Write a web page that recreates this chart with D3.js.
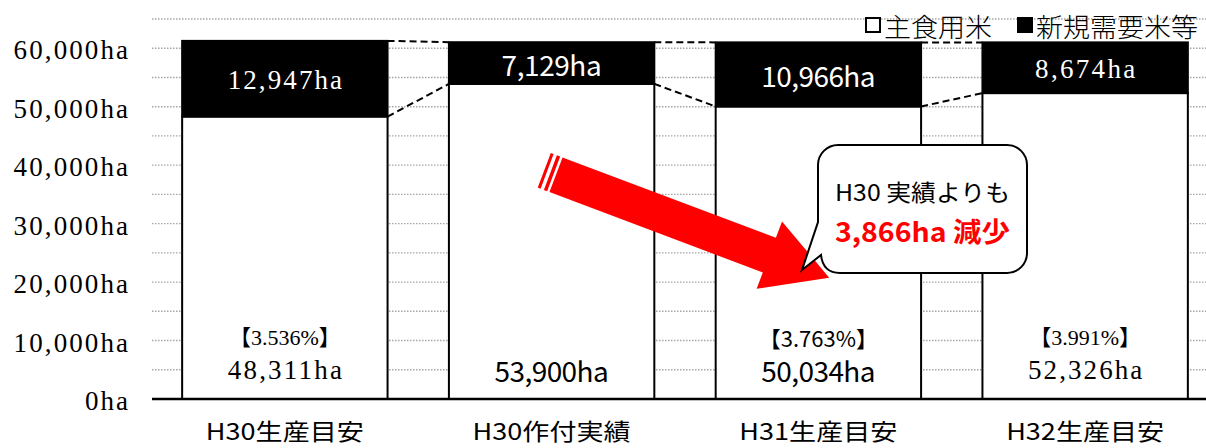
<!DOCTYPE html>
<html>
<head>
<meta charset="utf-8">
<script src="https://cdn.jsdelivr.net/npm/d3@7/dist/d3.min.js"></script>
<style>
  body { margin: 0; background: #fff; }
  svg { display: block; }
</style>
</head>
<body>
<div id="chart"></div>
<script>
// data
var categories = ["H30生産目安", "H30作付実績", "H31生産目安", "H32生産目安"];
var shushoku = [48311, 53900, 50034, 52326];   // 主食用米
var shinki = [12947, 7129, 10966, 8674];       // 新規需要米等
var shares = ["【3.536%】", null, "【3.763%】", "【3.991%】"];
var yTicks = [0, 10000, 20000, 30000, 40000, 50000, 60000];
var gridTicks = [5000, 10000, 15000, 20000, 25000, 30000, 35000, 40000, 45000, 50000, 55000, 60000, 65000];
var legendLabels = ["主食用米", "新規需要米等"];
var calloutLines = ["H30 実績よりも", "3,866ha 減少"];

// which bars use the mincho-looking font
var serifBar = [true, false, false, true];

var w = 1206, h = 448;
var SERIF = "'Liberation Serif', 'DejaVu Serif', serif";
var GOTHIC = "'Liberation Sans Narrow', 'Noto Sans CJK JP', sans-serif";
var CJK = "'Noto Sans CJK JP', sans-serif";

var svg = d3.select("#chart").append("svg")
    .attr("width", w)
    .attr("height", h);

var y = d3.scaleLinear().domain([0, 65000]).range([399, 19]);
var x = d3.scaleBand().domain(categories).range([152, 1218])
    .paddingInner(0.23).paddingOuter(0.113);

var fmt = function (v) { return d3.format(",")(v) + "ha"; };
var halfW = 14.3; // width of one half-width char in the original

// gridlines
svg.append("g").selectAll("line")
    .data(gridTicks)
    .enter().append("line")
    .attr("x1", 152).attr("x2", w)
    .attr("y1", function (d) { return y(d); })
    .attr("y2", function (d) { return y(d); })
    .attr("stroke", "#a6a6a6")
    .attr("stroke-width", 1.4)
    .attr("stroke-dasharray", "1.5,1.5");

// y tick labels
svg.append("g").selectAll("text")
    .data(yTicks)
    .enter().append("text")
    .attr("x", 128)
    .attr("y", function (d) { return y(d) + 2; })
    .attr("text-anchor", "end")
    .attr("dominant-baseline", "central")
    .attr("font-family", SERIF)
    .attr("font-size", 27)
    .attr("textLength", function (d) { return fmt(d).length * halfW; })
    .attr("lengthAdjust", "spacing")
    .text(function (d) { return fmt(d); });

var bars = categories.map(function (c, i) {
    return { cat: c, low: shushoku[i], high: shinki[i], total: shushoku[i] + shinki[i], i: i };
});

// white segment
svg.append("g").selectAll("rect")
    .data(bars)
    .enter().append("rect")
    .attr("x", function (d) { return x(d.cat); })
    .attr("y", function (d) { return y(d.low); })
    .attr("width", x.bandwidth())
    .attr("height", function (d) { return y(0) - y(d.low); })
    .attr("fill", "#fff")
    .attr("stroke", "#000")
    .attr("stroke-width", 2);

// black segment
svg.append("g").selectAll("rect")
    .data(bars)
    .enter().append("rect")
    .attr("x", function (d) { return x(d.cat); })
    .attr("y", function (d) { return y(d.total); })
    .attr("width", x.bandwidth())
    .attr("height", function (d) { return y(d.low) - y(d.total); })
    .attr("fill", "#000")
    .attr("stroke", "#000")
    .attr("stroke-width", 2);

// dashed connectors between bars
var pairs = bars.slice(0, -1).map(function (d, i) { return [d, bars[i + 1]]; });
["total", "low"].forEach(function (key) {
    svg.append("g").selectAll("line")
        .data(pairs)
        .enter().append("line")
        .attr("x1", function (p) { return x(p[0].cat) + x.bandwidth(); })
        .attr("x2", function (p) { return x(p[1].cat); })
        .attr("y1", function (p) { return y(p[0][key]); })
        .attr("y2", function (p) { return y(p[1][key]); })
        .attr("stroke", "#000")
        .attr("stroke-width", 2)
        .attr("stroke-dasharray", "7,4");
});

// x axis line
svg.append("line")
    .attr("x1", 152).attr("x2", w)
    .attr("y1", y(0)).attr("y2", y(0))
    .attr("stroke", "#000")
    .attr("stroke-width", 2.5);

// category labels
svg.append("g").selectAll("text")
    .data(categories)
    .enter().append("text")
    .attr("x", function (d) { return x(d) + x.bandwidth() / 2; })
    .attr("y", 430)
    .attr("text-anchor", "middle")
    .attr("dominant-baseline", "central")
    .attr("font-family", GOTHIC)
    .attr("font-size", 23)
    .attr("textLength", 158)
    .attr("lengthAdjust", "spacingAndGlyphs")
    .text(function (d) { return d; });

// labels in the black segment
svg.append("g").selectAll("text")
    .data(bars)
    .enter().append("text")
    .attr("x", function (d) { return x(d.cat) + x.bandwidth() / 2; })
    .attr("y", function (d) { return (y(d.total) + y(d.low)) / 2 + 1; })
    .attr("text-anchor", "middle")
    .attr("dominant-baseline", "central")
    .attr("fill", "#fff")
    .attr("font-family", function (d) { return serifBar[d.i] ? SERIF : GOTHIC; })
    .attr("font-size", function (d) { return serifBar[d.i] ? 27 : 28; })
    .attr("textLength", function (d) { return fmt(d.high).length * halfW; })
    .attr("lengthAdjust", "spacing")
    .text(function (d) { return fmt(d.high); });

// labels near the bottom of the white segment
svg.append("g").selectAll("text")
    .data(bars)
    .enter().append("text")
    .attr("x", function (d) { return x(d.cat) + x.bandwidth() / 2; })
    .attr("y", y(0) - 29)
    .attr("text-anchor", "middle")
    .attr("dominant-baseline", "central")
    .attr("font-family", function (d) { return serifBar[d.i] ? SERIF : GOTHIC; })
    .attr("font-size", function (d) { return serifBar[d.i] ? 27 : 28; })
    .attr("textLength", function (d) { return fmt(d.low).length * halfW; })
    .attr("lengthAdjust", "spacing")
    .text(function (d) { return fmt(d.low); });

svg.append("g").selectAll("text")
    .data(bars.filter(function (d) { return shares[d.i]; }))
    .enter().append("text")
    .attr("x", function (d) { return x(d.cat) + x.bandwidth() / 2; })
    .attr("y", y(0) - 62)
    .attr("text-anchor", "middle")
    .attr("dominant-baseline", "central")
    .attr("font-family", function (d) { return serifBar[d.i] ? "'Liberation Serif', 'Noto Sans CJK JP', serif" : GOTHIC; })
    .attr("font-size", 22)
    .text(function (d) { return shares[d.i]; });

// red arrow
var arrow = svg.append("g")
    .attr("transform", "translate(556,174.7) rotate(20.66)")
    .attr("fill", "#ff0000");
arrow.append("polygon")
    .attr("points", [[0, -18.5], [228, -18.5], [228, -36], [292, 0], [228, 36], [228, 18.5], [0, 18.5]].join(" "));
arrow.append("rect").attr("x", -6).attr("y", -18.5).attr("width", 3.5).attr("height", 37);
arrow.append("rect").attr("x", -12.5).attr("y", -18.5).attr("width", 3).attr("height", 37);

// callout
svg.append("path")
    .attr("d", "M838,145 H1007 A20,20 0 0 1 1027,165 V253 A20,20 0 0 1 1007,273 H840 " +
               "Q823,273 821,255 L802,270 L818,222 V165 A20,20 0 0 1 838,145 Z")
    .attr("fill", "#fff")
    .attr("stroke", "#000")
    .attr("stroke-width", 2);
svg.append("text")
    .attr("x", 922.5).attr("y", 191)
    .attr("text-anchor", "middle")
    .attr("dominant-baseline", "central")
    .attr("font-family", GOTHIC)
    .attr("font-size", 23)
    .attr("textLength", 175)
    .attr("lengthAdjust", "spacingAndGlyphs")
    .text(calloutLines[0]);
svg.append("text")
    .attr("x", 922.5).attr("y", 230)
    .attr("text-anchor", "middle")
    .attr("dominant-baseline", "central")
    .attr("font-family", GOTHIC)
    .attr("font-weight", "bold")
    .attr("font-size", 27)
    .attr("fill", "#ff0000")
    .attr("textLength", 175)
    .attr("lengthAdjust", "spacingAndGlyphs")
    .text(calloutLines[1]);

// legend
var legendX = [865, 1017];
legendLabels.forEach(function (lab, i) {
    svg.append("rect")
        .attr("x", legendX[i] + 1).attr("y", 18)
        .attr("width", 14).attr("height", 14)
        .attr("fill", i == 0 ? "#fff" : "#000")
        .attr("stroke", "#000")
        .attr("stroke-width", 2);
    svg.append("text")
        .attr("x", legendX[i] + 19).attr("y", 25)
        .attr("dominant-baseline", "central")
        .attr("font-family", CJK)
        .attr("font-weight", 300)
        .attr("font-size", 26)
        .attr("textLength", lab.length * 27)
        .attr("lengthAdjust", "spacingAndGlyphs")
        .text(lab);
});
</script>
</body>
</html>
